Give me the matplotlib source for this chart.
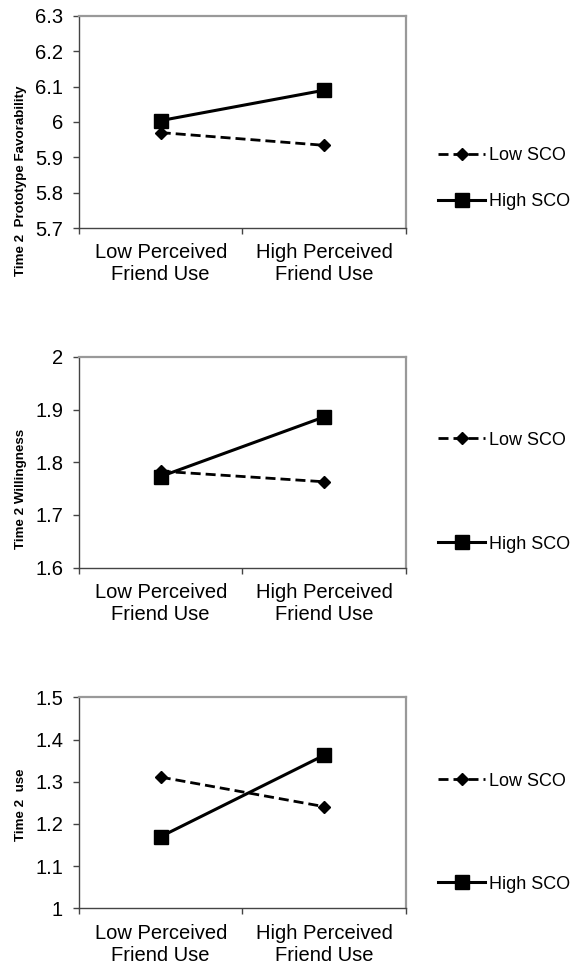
import matplotlib
matplotlib.use('Agg')
import matplotlib.pyplot as plt
from matplotlib.legend import Legend

plt.rcParams['font.family'] = ['Liberation Sans', 'DejaVu Sans']

categories = ['Low Perceived\nFriend Use', 'High Perceived\nFriend Use']
series_names = ['Low SCO', 'High SCO']

# panel 1: prototype favorability
fav_low = [5.970, 5.934]
fav_high = [6.004, 6.090]
# panel 2: willingness
will_low = [1.783, 1.763]
will_high = [1.773, 1.886]
# panel 3: use
use_low = [1.311, 1.241]
use_high = [1.170, 1.363]

ylabels = ['Time 2  Prototype Favorability', 'Time 2 Willingness', 'Time 2  use']
ylims = [(5.7, 6.3), (1.6, 2.0), (1.0, 1.5)]
yticks = [[5.7, 5.8, 5.9, 6.0, 6.1, 6.2, 6.3],
          [1.6, 1.7, 1.8, 1.9, 2.0],
          [1.0, 1.1, 1.2, 1.3, 1.4, 1.5]]
yticklabels = [['5.7', '5.8', '5.9', '6', '6.1', '6.2', '6.3'],
               ['1.6', '1.7', '1.8', '1.9', '2'],
               ['1', '1.1', '1.2', '1.3', '1.4', '1.5']]
lows = [fav_low, will_low, use_low]
highs = [fav_high, will_high, use_high]

fig = plt.figure(figsize=(5.74, 9.69), dpi=100)

boxes = [(0.1376, 0.7647, 0.5697, 0.2188),
         (0.1376, 0.4141, 0.5697, 0.2177),
         (0.1376, 0.0626, 0.5697, 0.2177)]
label_y = [1 - 181 / 969, 1 - 489 / 969, 1 - 805 / 969]
leg_y = [(0.34, 0.123), (0.605, 0.112), (0.603, 0.115)]

x = [0, 1]
for i in range(3):
    ax = fig.add_axes(boxes[i])
    ax.plot(x, lows[i], color='black', lw=2, dashes=(3.6, 1.8),
            marker='D', markersize=6.5, label=series_names[0])
    ax.plot(x, highs[i], color='black', lw=2.2, marker='s',
            markersize=9.5, label=series_names[1])
    ax.set_xlim(-0.5, 1.5)
    ax.set_ylim(*ylims[i])
    ax.set_yticks(yticks[i])
    ax.set_yticklabels(yticklabels[i], fontsize=14.5)
    ax.set_xticks([-0.5, 0.5, 1.5])
    ax.set_xticklabels([])
    ax.set_xticks(x, minor=True)
    ax.set_xticklabels(categories, minor=True, fontsize=14.5, linespacing=1.2)
    ax.tick_params(axis='x', which='minor', length=0, pad=11)
    ax.tick_params(axis='y', which='major', direction='out', length=4.5,
                   width=1, color='#444444', pad=7)
    ax.tick_params(axis='x', which='major', direction='out', length=4.5,
                   width=1, color='#444444')
    for s in ['top', 'right']:
        ax.spines[s].set_color('#999999')
        ax.spines[s].set_linewidth(1.6)
    for s in ['left', 'bottom']:
        ax.spines[s].set_color('#444444')
        ax.spines[s].set_linewidth(1)
    fig.text(0.037, label_y[i], ylabels[i], rotation=90, fontsize=9.6,
             fontweight='bold', ha='center', va='center')

    handles, labels = ax.get_legend_handles_labels()
    for h, lab, yy in zip(handles, labels, leg_y[i]):
        lg = Legend(ax, [h], [lab], loc='center left', bbox_to_anchor=(1.098, yy),
                    frameon=False, fontsize=13, handlelength=2.6,
                    handletextpad=0.2, borderpad=0, borderaxespad=0)
        ax.add_artist(lg)

fig.savefig('out.png', dpi=100)
